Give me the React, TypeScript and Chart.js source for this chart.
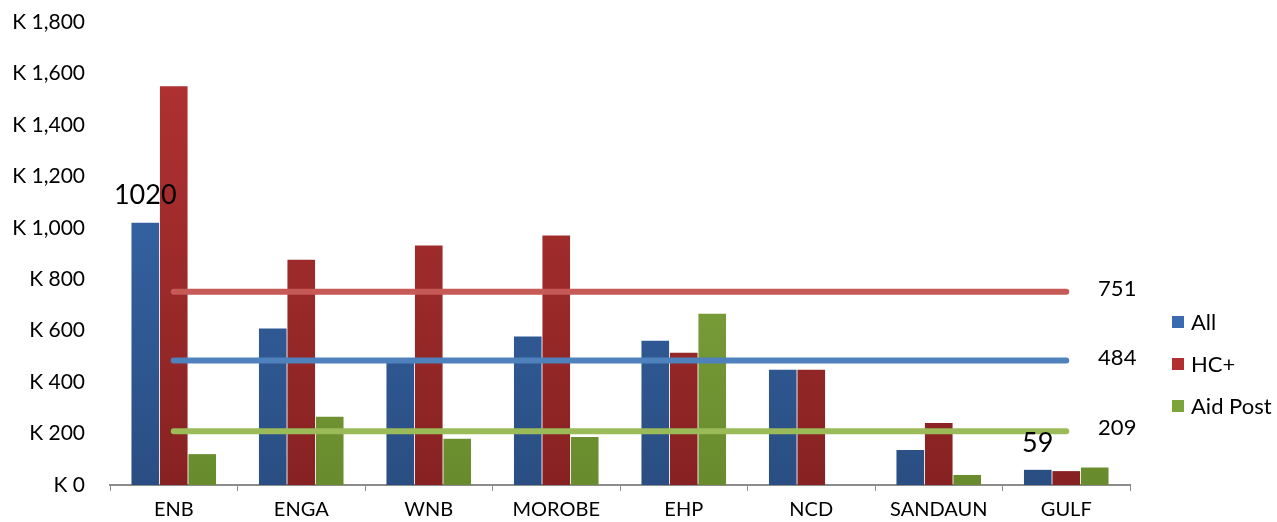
import React, { useEffect, useRef } from "react";
import { Chart, registerables } from "chart.js";

Chart.register(...registerables);

const categories = ["ENB", "ENGA", "WNB", "MOROBE", "EHP", "NCD", "SANDAUN", "GULF"];
const allValues = [1020, 608, 485, 577, 561, 448, 136, 59];
const hcValues = [1550, 876, 931, 970, 514, 448, 241, 54];
const aidPostValues = [120, 265, 180, 187, 666, 0, 39, 68];
const avgAll = [484, 484, 484, 484, 484, 484, 484, 484];
const avgHc = [751, 751, 751, 751, 751, 751, 751, 751];
const avgAid = [209, 209, 209, 209, 209, 209, 209, 209];
const avgLabels = ["751", "484", "209"];
const yTicks = { min: 0, max: 1800, step: 200 };
const legendNames = ["All", "HC+", "Aid Post"];
const labeledBars = [0, 7]; // indices of "All" bars with value labels

const FONT = "Lato";

function grad(ctx: any, top: string, bottom: string) {
  const chart = ctx.chart;
  const area = chart.chartArea;
  if (!area) return top;
  const g = chart.ctx.createLinearGradient(0, area.top, 0, area.bottom);
  g.addColorStop(0, top);
  g.addColorStop(1, bottom);
  return g;
}

export default function App() {
  const ref = useRef<HTMLCanvasElement | null>(null);
  useEffect(() => {
    document.body.style.margin = "0";
    const canvas = ref.current!;
    const overlay = {
      id: "overlay",
      afterDatasetsDraw(chart: any) {
        const c = chart.ctx;
        const y = chart.scales.y;
        const x = chart.scales.x;
        c.save();
        // bar value labels
        c.fillStyle = "#000";
        c.font = `27px ${FONT}`;
        c.textAlign = "center";
        c.textBaseline = "middle";
        const meta = chart.getDatasetMeta(3);
        labeledBars.forEach((i) => {
          const el = meta.data[i];
          c.fillText(String(allValues[i]), el.x, y.getPixelForValue(allValues[i]) - 27);
        });
        // average labels
        c.font = `22px ${FONT}`;
        const lastX = x.getPixelForValue(categories.length - 1);
        const avgVals = [avgHc[avgHc.length - 1], avgAll[avgAll.length - 1], avgAid[avgAid.length - 1]];
        avgVals.forEach((v, i) => {
          c.fillText(avgLabels[i], lastX + 51, y.getPixelForValue(v) - 3);
        });
        // legend
        const cols = ["#3A6BB0", "#B03030", "#7BA53A"];
        c.textAlign = "left";
        c.font = `22px ${FONT}`;
        legendNames.forEach((n, i) => {
          const cy = 322 + i * 42;
          c.fillStyle = cols[i];
          c.fillRect(1172, cy - 6, 12, 12);
          c.fillStyle = "#000";
          c.fillText(n, 1191, cy + 1);
        });
        c.restore();
      },
    };
    const chart = new Chart(canvas, {
      type: "bar",
      data: {
        labels: categories,
        datasets: [
          {
            type: "line",
            label: "avgHc",
            data: avgHc,
            borderColor: "#C55A57",
            borderWidth: 6,
            borderCapStyle: "round",
            pointRadius: 0,
            order: 0,
          } as any,
          {
            type: "line",
            label: "avgAll",
            data: avgAll,
            borderColor: "#4F81BD",
            borderWidth: 6,
            borderCapStyle: "round",
            pointRadius: 0,
            order: 0,
          } as any,
          {
            type: "line",
            label: "avgAid",
            data: avgAid,
            borderColor: "#9BBB59",
            borderWidth: 6,
            borderCapStyle: "round",
            pointRadius: 0,
            order: 0,
          } as any,
          {
            label: "All",
            data: allValues,
            backgroundColor: (ctx: any) => grad(ctx, "#3A6EB6", "#2A4E82"),
            categoryPercentage: 0.67,
            barPercentage: 0.97,
            order: 1,
          },
          {
            label: "HC+",
            data: hcValues,
            backgroundColor: (ctx: any) => grad(ctx, "#B53333", "#872222"),
            categoryPercentage: 0.67,
            barPercentage: 0.97,
            order: 1,
          },
          {
            label: "Aid Post",
            data: aidPostValues,
            backgroundColor: (ctx: any) => grad(ctx, "#8DB547", "#688B2D"),
            categoryPercentage: 0.67,
            barPercentage: 0.97,
            order: 1,
          },
        ],
      },
      options: {
        animation: false,
        responsive: false,
        layout: { padding: { top: 22, right: 147, left: 0, bottom: 0 } },
        plugins: { legend: { display: false }, tooltip: { enabled: false } },
        scales: {
          x: {
            grid: { display: true, drawOnChartArea: false, tickLength: 6, color: "#8C8C8C", offset: true },
            border: { display: true, color: "#8C8C8C", width: 2 },
            ticks: { color: "#000", font: { family: FONT, size: 20 }, padding: 7 },
            afterFit: (s: any) => {
              s.height = 37;
            },
          },
          y: {
            min: yTicks.min,
            max: yTicks.max,
            ticks: {
              stepSize: yTicks.step,
              color: "#000",
              font: { family: FONT, size: 21 },
              padding: 17,
              callback: (v: any) => "K " + Number(v).toLocaleString("en-US"),
            },
            grid: { display: false },
            border: { display: false },
            afterFit: (s: any) => {
              s.width = 110;
              s.paddingTop = 0;
              s.paddingBottom = 0;
            },
          },
        },
      },
      plugins: [overlay],
    });
    return () => chart.destroy();
  }, []);
  return <canvas ref={ref} width={1277} height={522} style={{ display: "block" }} />;
}
